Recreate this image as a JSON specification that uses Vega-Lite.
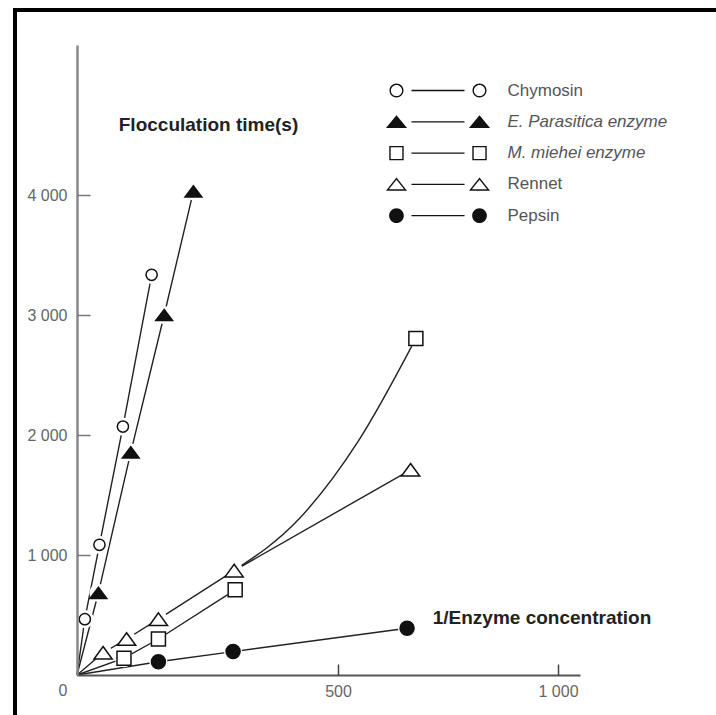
{
  "$schema": "https://vega.github.io/schema/vega-lite/v6.json",
  "width": 701,
  "height": 705,
  "padding": {"left": 15, "top": 10, "right": 0, "bottom": 0},
  "autosize": {"type": "none"},
  "background": "white",
  "config": {
    "font": "Liberation Sans",
    "view": {"stroke": "#000", "strokeWidth": 4, "strokeDash": [701, 1406, 705]}
  },
  "datasets": {
    "measurements": [
      {"enzyme": "Chymosin", "conc": 15, "time": 465},
      {"enzyme": "Chymosin", "conc": 43, "time": 1085},
      {"enzyme": "Chymosin", "conc": 88, "time": 2070},
      {"enzyme": "Chymosin", "conc": 143, "time": 3335},
      {"enzyme": "E. Parasitica enzyme", "conc": 41, "time": 685},
      {"enzyme": "E. Parasitica enzyme", "conc": 103, "time": 1855},
      {"enzyme": "E. Parasitica enzyme", "conc": 167, "time": 3000},
      {"enzyme": "E. Parasitica enzyme", "conc": 223, "time": 4030},
      {"enzyme": "M. miehei enzyme", "conc": 90, "time": 140},
      {"enzyme": "M. miehei enzyme", "conc": 156, "time": 300},
      {"enzyme": "M. miehei enzyme", "conc": 303, "time": 710},
      {"enzyme": "M. miehei enzyme", "conc": 677, "time": 2805},
      {"enzyme": "Rennet", "conc": 50, "time": 185},
      {"enzyme": "Rennet", "conc": 95, "time": 300},
      {"enzyme": "Rennet", "conc": 156, "time": 465},
      {"enzyme": "Rennet", "conc": 301, "time": 870},
      {"enzyme": "Rennet", "conc": 665, "time": 1710},
      {"enzyme": "Pepsin", "conc": 156, "time": 110},
      {"enzyme": "Pepsin", "conc": 299, "time": 195},
      {"enzyme": "Pepsin", "conc": 657, "time": 390}
    ],
    "traces": [
      {"trace": "Chymosin", "smooth": false, "conc": 0, "time": 0},
      {"trace": "Chymosin", "smooth": false, "conc": 15, "time": 465},
      {"trace": "Chymosin", "smooth": false, "conc": 43, "time": 1085},
      {"trace": "Chymosin", "smooth": false, "conc": 88, "time": 2070},
      {"trace": "Chymosin", "smooth": false, "conc": 143, "time": 3335},
      {"trace": "E. Parasitica enzyme", "smooth": false, "conc": 0, "time": 0},
      {"trace": "E. Parasitica enzyme", "smooth": false, "conc": 41, "time": 685},
      {"trace": "E. Parasitica enzyme", "smooth": false, "conc": 103, "time": 1855},
      {"trace": "E. Parasitica enzyme", "smooth": false, "conc": 167, "time": 3000},
      {"trace": "E. Parasitica enzyme", "smooth": false, "conc": 223, "time": 4030},
      {"trace": "M. miehei enzyme", "smooth": false, "conc": 0, "time": 0},
      {"trace": "M. miehei enzyme", "smooth": false, "conc": 90, "time": 140},
      {"trace": "M. miehei enzyme", "smooth": false, "conc": 156, "time": 300},
      {"trace": "M. miehei enzyme", "smooth": false, "conc": 303, "time": 710},
      {"trace": "M. miehei enzyme, upper curve", "smooth": true, "conc": 301, "time": 870},
      {"trace": "M. miehei enzyme, upper curve", "smooth": true, "conc": 427, "time": 1308},
      {"trace": "M. miehei enzyme, upper curve", "smooth": true, "conc": 545, "time": 1942},
      {"trace": "M. miehei enzyme, upper curve", "smooth": true, "conc": 677, "time": 2805},
      {"trace": "Rennet", "smooth": false, "conc": 0, "time": 0},
      {"trace": "Rennet", "smooth": false, "conc": 50, "time": 185},
      {"trace": "Rennet", "smooth": false, "conc": 95, "time": 300},
      {"trace": "Rennet", "smooth": false, "conc": 156, "time": 465},
      {"trace": "Rennet", "smooth": false, "conc": 301, "time": 870},
      {"trace": "Rennet", "smooth": false, "conc": 665, "time": 1710},
      {"trace": "Pepsin", "smooth": false, "conc": 0, "time": 0},
      {"trace": "Pepsin", "smooth": false, "conc": 156, "time": 110},
      {"trace": "Pepsin", "smooth": false, "conc": 299, "time": 195},
      {"trace": "Pepsin", "smooth": false, "conc": 657, "time": 390}
    ]
  },
  "resolve": {
    "scale": {"shape": "independent"},
    "axis": {"x": "independent", "y": "independent"}
  },
  "layer": [
    {
      "data": {"name": "traces"},
      "transform": [{"filter": "!datum.smooth"}],
      "mark": {"type": "line", "stroke": "#222", "strokeWidth": 1.4, "interpolate": "linear"},
      "encoding": {
        "x": {
          "field": "conc", "type": "quantitative",
          "scale": {"domain": [0, 500, 1000, 1050], "range": [62, 323, 543, 565], "nice": false, "zero": false},
          "axis": {
            "orient": "bottom", "offset": -40, "values": [500, 1000], "ticks": false, "grid": false,
            "domainColor": "#555", "domainWidth": 2,
            "labelFontSize": 16, "labelColor": "#666", "labelPadding": 8,
            "labelExpr": "replace(format(datum.value, ','), ',', ' ')",
            "title": "1/Enzyme concentration", "titleX": 526.5, "titleY": -58,
            "titleAlign": "center", "titleBaseline": "middle",
            "titleFontSize": 19, "titleFontWeight": "bold", "titleColor": "#222", "zindex": 1
          }
        },
        "y": {
          "field": "time", "type": "quantitative",
          "scale": {"domain": [0, 5250], "range": [665, 35], "nice": false, "zero": false},
          "axis": {
            "orient": "left", "offset": -62, "values": [0, 1000, 2000, 3000, 4000], "ticks": false, "grid": false,
            "domainColor": "#888", "domainWidth": 2.5,
            "labelFontSize": 16, "labelColor": "#666", "labelPadding": 10,
            "labelExpr": "datum.value === 0 ? '0' : replace(format(datum.value, ','), ',', ' ')",
            "labelOffset": {"condition": {"test": "datum.value === 0", "value": 15}, "value": 0},
            "title": "Flocculation time(s)", "titleX": 131, "titleY": 114, "titleAngle": 0,
            "titleAlign": "center", "titleBaseline": "middle",
            "titleFontSize": 19, "titleFontWeight": "bold", "titleColor": "#222", "zindex": 1
          }
        },
        "detail": {"field": "trace"},
        "order": {"field": "conc", "type": "quantitative"}
      }
    },
    {
      "data": {"name": "traces"},
      "transform": [{"filter": "datum.smooth"}],
      "mark": {"type": "line", "stroke": "#222", "strokeWidth": 1.4, "interpolate": "monotone"},
      "encoding": {
        "x": {"field": "conc", "type": "quantitative", "axis": null},
        "y": {"field": "time", "type": "quantitative", "axis": null},
        "detail": {"field": "trace"},
        "order": {"field": "conc", "type": "quantitative"}
      }
    },
    {
      "data": {"name": "measurements"},
      "mark": {"type": "point", "shape": "circle", "size": 330, "filled": true, "fill": "white", "strokeWidth": 0, "opacity": 1},
      "encoding": {
        "x": {
          "field": "conc", "type": "quantitative",
          "axis": {"orient": "top", "offset": -665, "values": [500, 1000], "labels": false, "domain": false, "grid": false,
                   "ticks": true, "tickSize": 11, "tickColor": "#444", "tickWidth": 1.5, "title": null, "zindex": 1}
        },
        "y": {
          "field": "time", "type": "quantitative",
          "axis": {"orient": "right", "offset": -639, "values": [1000, 2000, 3000, 4000], "labels": false, "domain": false, "grid": false,
                   "ticks": true, "tickSize": 13, "tickColor": "#777", "tickWidth": 1.5, "title": null, "zindex": 1}
        }
      }
    },
    {
      "data": {"name": "measurements"},
      "mark": {"type": "point", "size": 196, "stroke": "#111", "strokeWidth": 1.5, "opacity": 1},
      "encoding": {
        "x": {"field": "conc", "type": "quantitative", "axis": null},
        "y": {"field": "time", "type": "quantitative", "axis": null},
        "shape": {
          "field": "enzyme", "type": "nominal",
          "scale": {
            "domain": ["Chymosin", "E. Parasitica enzyme", "M. miehei enzyme", "Rennet", "Pepsin"],
            "range": [
              "M0.8,0C0.8,0.442,0.442,0.8,0,0.8C-0.442,0.8,-0.8,0.442,-0.8,0C-0.8,-0.442,-0.442,-0.8,0,-0.8C0.442,-0.8,0.8,-0.442,0.8,0Z",
              "M0,-0.8L1.2,0.8L-1.2,0.8Z",
              "M-1,-1L1,-1L1,1L-1,1Z",
              "M0,-0.9L1.3,0.9L-1.3,0.9Z",
              "M1,0C1,0.552,0.552,1,0,1C-0.552,1,-1,0.552,-1,0C-1,-0.552,-0.552,-1,0,-1C0.552,-1,1,-0.552,1,0Z"
            ]
          },
          "legend": null
        },
        "fill": {
          "field": "enzyme", "type": "nominal",
          "scale": {
            "domain": ["Chymosin", "E. Parasitica enzyme", "M. miehei enzyme", "Rennet", "Pepsin"],
            "range": ["#ffffff", "#111111", "#ffffff", "#ffffff", "#111111"]
          },
          "legend": null
        }
      }
    },
    {
      "data": {"name": "measurements"},
      "transform": [{"filter": "false"}],
      "mark": {"type": "point", "filled": true, "color": "#111", "strokeWidth": 0, "opacity": 1, "size": 196},
      "encoding": {
        "shape": {
          "field": "enzyme", "type": "nominal",
          "scale": {
            "domain": ["Chymosin", "E. Parasitica enzyme", "M. miehei enzyme", "Rennet", "Pepsin"],
            "range": [
              "M-4.93,0C-4.93,0.552,-5.378,1,-5.93,1C-6.482,1,-6.93,0.552,-6.93,0C-6.93,-0.552,-6.482,-1,-5.93,-1C-5.378,-1,-4.93,-0.552,-4.93,0ZM-5.13,0C-5.13,-0.442,-5.488,-0.8,-5.93,-0.8C-6.372,-0.8,-6.73,-0.442,-6.73,0C-6.73,0.442,-6.372,0.8,-5.93,0.8C-5.488,0.8,-5.13,0.442,-5.13,0ZM-3.79,-0.095L3.79,-0.095L3.79,0.095L-3.79,0.095ZM6.93,0C6.93,0.552,6.482,1,5.93,1C5.378,1,4.93,0.552,4.93,0C4.93,-0.552,5.378,-1,5.93,-1C6.482,-1,6.93,-0.552,6.93,0ZM6.73,0C6.73,-0.442,6.372,-0.8,5.93,-0.8C5.488,-0.8,5.13,-0.442,5.13,0C5.13,0.442,5.488,0.8,5.93,0.8C6.372,0.8,6.73,0.442,6.73,0Z",
              "M-5.93,-0.95L-4.42,0.9L-7.44,0.9ZM-3.79,-0.095L3.79,-0.095L3.79,0.095L-3.79,0.095ZM5.93,-0.95L7.44,0.9L4.42,0.9Z",
              "M-6.96,-1.03L-4.9,-1.03L-4.9,1.03L-6.96,1.03ZM-6.76,-0.83L-6.76,0.83L-5.1,0.83L-5.1,-0.83ZM-3.79,-0.095L3.79,-0.095L3.79,0.095L-3.79,0.095ZM4.9,-1.03L6.96,-1.03L6.96,1.03L4.9,1.03ZM5.1,-0.83L5.1,0.83L6.76,0.83L6.76,-0.83Z",
              "M-5.93,-0.97L-4.43,0.9L-7.43,0.9ZM-5.93,-0.65L-7.013,0.7L-4.847,0.7ZM-3.79,-0.095L3.79,-0.095L3.79,0.095L-3.79,0.095ZM5.93,-0.97L7.43,0.9L4.43,0.9ZM5.93,-0.65L4.847,0.7L7.013,0.7Z",
              "M-4.88,0C-4.88,0.58,-5.35,1.05,-5.93,1.05C-6.51,1.05,-6.98,0.58,-6.98,0C-6.98,-0.58,-6.51,-1.05,-5.93,-1.05C-5.35,-1.05,-4.88,-0.58,-4.88,0ZM-3.79,-0.095L3.79,-0.095L3.79,0.095L-3.79,0.095ZM6.98,0C6.98,0.58,6.51,1.05,5.93,1.05C5.35,1.05,4.88,0.58,4.88,0C4.88,-0.58,5.35,-1.05,5.93,-1.05C6.51,-1.05,6.98,-0.58,6.98,0Z"
            ]
          },
          "legend": {
            "orient": "none", "legendX": 414.5, "legendY": 72, "title": null,
            "padding": 0, "offset": 0, "symbolSize": 196, "symbolStrokeWidth": 0,
            "symbolFillColor": "#111", "symbolOpacity": 1,
            "labelFont": "Liberation Sans", "labelFontSize": 17, "labelColor": "#555",
            "labelFontStyle": {"expr": "datum.value === 'E. Parasitica enzyme' || datum.value === 'M. miehei enzyme' ? 'italic' : 'normal'"},
            "labelOffset": 61, "labelLimit": 400, "rowPadding": 13.3
          }
        }
      }
    }
  ]
}
